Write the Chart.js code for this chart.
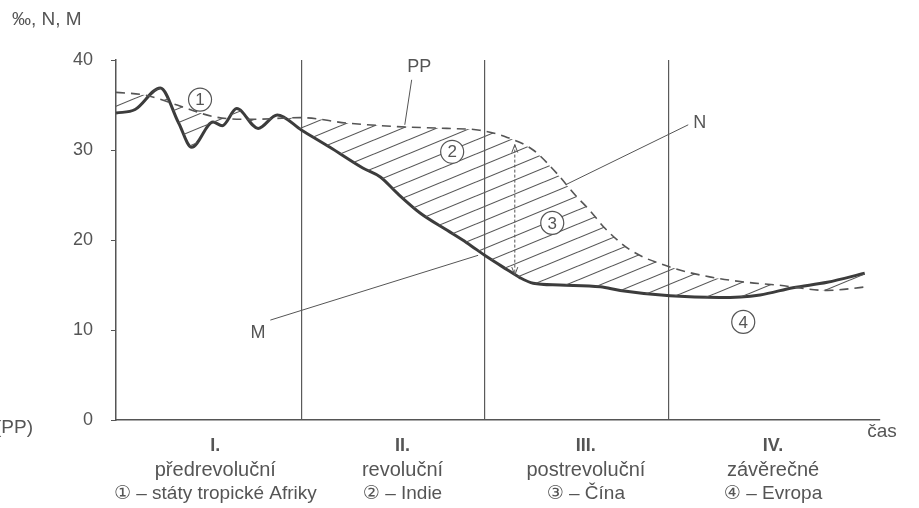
<!DOCTYPE html>
<html><head><meta charset="utf-8">
<script src="https://cdn.jsdelivr.net/npm/chart.js@4"></script>
<style>html,body{margin:0;padding:0;background:#fff;}#wrap{width:919px;height:508px;position:relative;}</style>
</head><body><div id="wrap"><canvas id="c" width="919" height="508"></canvas></div>
<script>
// ---- data ----
const mortalityX = [0, 2.5, 5.8, 8.2, 9.9, 12.7, 13.9, 15.8, 18.6, 21.1, 24.3, 28, 32.3, 34.6, 36.8, 39.8, 43.3, 45.9, 48.6, 51.2, 52.9, 54.6, 58.1, 63.4, 66, 72.5, 79, 84.3, 88.6, 93.1, 98];
const mortalityY = [34.1, 34.5, 36.9, 33, 30.3, 33.1, 32.7, 34.6, 32.4, 33.9, 32.2, 30.3, 28, 27, 25.2, 23, 21.1, 19.7, 18.1, 16.7, 15.8, 15.2, 15, 14.8, 14.4, 13.8, 13.6, 13.9, 14.7, 15.3, 16.3];
const natalityX = [0, 3.8, 8, 12.8, 17.5, 24.1, 30.2, 36.8, 43.3, 47.6, 51.2, 54.6, 57.7, 60.1, 62, 64, 67.3, 72.5, 77.7, 82.6, 86.5, 93.1, 98.3];
const natalityY = [36.4, 36.1, 35, 33.7, 33.4, 33.6, 33, 32.6, 32.4, 32.2, 31.4, 30, 27.4, 25, 23.3, 21.3, 18.9, 17, 15.9, 15.3, 15, 14.4, 14.8];
const yTicks = [0, 10, 20, 30, 40];
const phaseBounds = [24.3, 48.3, 72.3];
const phaseNumerals = ['I.', 'II.', 'III.', 'IV.'];
const phaseNames = ['předrevoluční', 'revoluční', 'postrevoluční', 'závěrečné'];
const phaseExamples = ['① – státy tropické Afriky', '② – Indie', '③ – Čína', '④ – Evropa'];
const circleDigits = ['1', '2', '3', '4'];
const seriesLabels = ['N', 'M', 'PP'];
const yTitle = '‰, N, M';
const xTitle = 'čas';
const leftCut = '(PP)';
// ---- placement (data units) ----
const phaseLabelX = [13, 37.5, 61.5, 86];
const circleAt = [[11, 35.6], [44, 29.8], [57.1, 21.9], [82.1, 10.9]];
const leaderN = {text: [76.4, 33], from: [74.9, 32.8], to: [59, 26.2]};
const leaderM = {text: [18.6, 9.7], from: [20.2, 11.1], to: [47.4, 18.3]};
const leaderPP = {text: [39.7, 39.2], from: [38.7, 37.8], to: [37.8, 32.8]};
const ppArrow = {x: 52.2, top: 30.6, bottom: 16.1};

const FONT = "'Liberation Sans', Arial, sans-serif";
const INK = '#555';

function hatch() {
  const W = 34, H = 14;
  const c = document.createElement('canvas'); c.width = W; c.height = H;
  const g = c.getContext('2d');
  g.strokeStyle = '#555'; g.lineWidth = 1.1;
  for (const k of [-1, 0, 1]) {
    g.beginPath(); g.moveTo(-W, 2 * H + k * H); g.lineTo(2 * W, -H + k * H); g.stroke();
  }
  return g.createPattern(c, 'repeat');
}
const pts = (xs, ys) => xs.map((x, i) => ({x, y: ys[i]}));

const deco = {
  id: 'deco',
  afterDatasetsDraw(chart) {
    const ctx = chart.ctx, xs = chart.scales.x, ys = chart.scales.y;
    const P = (a) => [xs.getPixelForValue(a[0]), ys.getPixelForValue(a[1])];
    ctx.save();
    ctx.fillStyle = INK; ctx.strokeStyle = '#555';
    ctx.lineWidth = 1;
    for (const [L, t] of [[leaderN, seriesLabels[0]], [leaderM, seriesLabels[1]], [leaderPP, seriesLabels[2]]]) {
      const a = P(L.from), b = P(L.to), p = P(L.text);
      ctx.beginPath(); ctx.moveTo(a[0], a[1]); ctx.lineTo(b[0], b[1]); ctx.stroke();
      ctx.font = '18px ' + FONT; ctx.textAlign = 'center'; ctx.textBaseline = 'middle';
      ctx.fillText(t, p[0], p[1]);
    }
    const ax = xs.getPixelForValue(ppArrow.x), at = ys.getPixelForValue(ppArrow.top), ab = ys.getPixelForValue(ppArrow.bottom);
    ctx.setLineDash([3, 2]); ctx.beginPath(); ctx.moveTo(ax, at); ctx.lineTo(ax, ab); ctx.stroke(); ctx.setLineDash([]);
    ctx.beginPath(); ctx.moveTo(ax - 3, at + 8); ctx.lineTo(ax, at); ctx.lineTo(ax + 3, at + 8); ctx.stroke();
    ctx.beginPath(); ctx.moveTo(ax - 3, ab - 8); ctx.lineTo(ax, ab); ctx.lineTo(ax + 3, ab - 8); ctx.stroke();
    circleAt.forEach((c, i) => {
      const p = P(c);
      ctx.beginPath(); ctx.arc(p[0], p[1], 11.5, 0, Math.PI * 2);
      ctx.fillStyle = '#fff'; ctx.fill(); ctx.lineWidth = 1.2; ctx.stroke();
      ctx.fillStyle = INK; ctx.font = '17px ' + FONT; ctx.textAlign = 'center'; ctx.textBaseline = 'middle';
      ctx.fillText(circleDigits[i], p[0], p[1] + 1);
    });
    ctx.textAlign = 'center'; ctx.textBaseline = 'middle';
    phaseLabelX.forEach((v, i) => {
      const x = xs.getPixelForValue(v);
      ctx.font = 'bold 18px ' + FONT; ctx.fillText(phaseNumerals[i], x, 446);
      ctx.font = '20px ' + FONT; ctx.fillText(phaseNames[i], x, 470);
      ctx.font = "19px 'Liberation Sans', 'DejaVu Sans', sans-serif"; ctx.fillText(phaseExamples[i], x, 494);
    });
    ctx.font = '19px ' + FONT;
    ctx.fillText(xTitle, 882, 432);
    ctx.textAlign = 'left'; ctx.fillText(yTitle, 12, 20);
    ctx.textAlign = 'right'; ctx.fillText(leftCut, 33, 428);
    ctx.restore();
  }
};

new Chart(document.getElementById('c'), {
  type: 'line',
  data: {
    datasets: [
      {label: seriesLabels[0], data: pts(natalityX, natalityY), borderColor: '#555', borderWidth: 1.6, borderDash: [9, 6],
       pointRadius: 0, cubicInterpolationMode: 'monotone', fill: {target: 1}, backgroundColor: hatch()},
      {label: seriesLabels[1], data: pts(mortalityX, mortalityY), borderColor: '#3c3c3c', borderWidth: 3,
       pointRadius: 0, cubicInterpolationMode: 'monotone', fill: false}
    ]
  },
  options: {
    responsive: false, animation: false, events: [],
    layout: {padding: {left: 0, right: 39, top: 60, bottom: 0}},
    plugins: {legend: {display: false}, tooltip: {enabled: false}},
    scales: {
      x: {type: 'linear', min: 0, max: 100,
          afterBuildTicks: s => { s.ticks = phaseBounds.map(v => ({value: v})); },
          afterFit: s => { s.height = 88; },
          ticks: {display: false},
          grid: {display: true, drawTicks: false, color: '#5a5a5a', lineWidth: 1.2},
          border: {display: true, color: '#555', width: 1.5}},
      y: {min: 0, max: 40,
          afterBuildTicks: s => { s.ticks = yTicks.map(v => ({value: v})); },
          afterFit: s => { s.width = 116; },
          ticks: {color: INK, font: {family: FONT, size: 18}, padding: 18},
          grid: {drawOnChartArea: false, drawTicks: true, tickLength: 5, color: '#555'},
          border: {display: true, color: '#555', width: 1.5}}
    }
  },
  plugins: [deco]
});
</script></body></html>
